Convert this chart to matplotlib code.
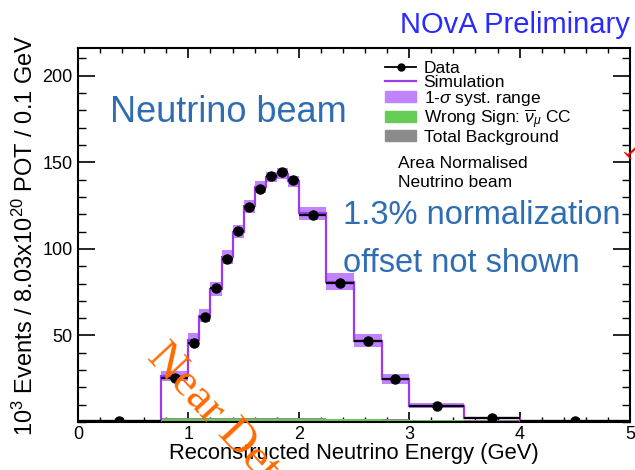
import numpy as np
import matplotlib.pyplot as plt
from matplotlib.lines import Line2D
from matplotlib.patches import Patch
from matplotlib.ticker import MultipleLocator

plt.rcParams['font.family'] = ['Liberation Sans', 'DejaVu Sans']
plt.rcParams['mathtext.fontset'] = 'custom'
plt.rcParams['mathtext.rm'] = 'Liberation Sans'
plt.rcParams['mathtext.it'] = 'Liberation Sans:italic'

# bin edges (GeV)
edges = np.array([0, 0.75, 1.0, 1.1, 1.2, 1.3, 1.4, 1.5, 1.6, 1.7, 1.8, 1.9,
                  2.0, 2.25, 2.5, 2.75, 3.0, 3.5, 4.0, 5.0])
data = np.array([0.5, 25.5, 45.6, 60.4, 77.3, 94.2, 110.4, 124.2, 134.6, 142.3,
                 144.2, 139.8, 119.6, 80.2, 46.6, 24.6, 9.0, 2.2, 0.3])
sim = np.array([0.3, 26.5, 47.5, 61.5, 77.0, 95.5, 110.0, 124.5, 135.5, 141.5,
                143.5, 139.0, 120.5, 81.0, 47.0, 25.0, 9.5, 2.5, 0.4])
syst = np.array([0.3, 3.0, 3.8, 3.8, 4.0, 4.0, 4.0, 4.0, 3.5, 3.0,
                 3.0, 3.0, 3.8, 4.8, 3.9, 2.9, 1.2, 0.6, 0.2])
wrong_sign = np.array([0.6, 1.8, 2.0, 2.0, 2.0, 2.0, 2.0, 2.0, 2.0, 2.0,
                       2.0, 2.0, 1.9, 1.8, 1.6, 1.4, 1.1, 0.8, 0.1])
tot_bkg = np.array([0.9, 2.1, 2.3, 2.3, 2.3, 2.3, 2.3, 2.3, 2.3, 2.3,
                    2.3, 2.3, 2.2, 2.0, 1.8, 1.6, 1.3, 1.0, 0.3])

purple = '#9d3be8'
band_col = '#c084ff'
green = '#66cc55'
grey = '#8c8c8c'
blue_txt = '#2f6db3'

fig = plt.figure(figsize=(6.35, 4.70), dpi=100)
ax = fig.add_axes([0.1228, 0.1021, 0.8694, 0.7957])

centers = 0.5 * (edges[:-1] + edges[1:])
halfw = 0.5 * np.diff(edges)

# systematic band
ax.fill_between(edges, np.append(sim - syst, sim[-1] - syst[-1]),
                np.append(sim + syst, sim[-1] + syst[-1]), step='post',
                color=band_col, lw=0, zorder=1)
# backgrounds
ax.fill_between(edges, 0, np.append(tot_bkg, tot_bkg[-1]), step='post',
                color=grey, lw=0, zorder=2)
ax.fill_between(edges, 0, np.append(wrong_sign, wrong_sign[-1]), step='post',
                color=green, lw=0, zorder=2)
# simulation
ax.stairs(sim, edges, color=purple, lw=1.6, zorder=3)
# data
ax.errorbar(centers, data, xerr=halfw, yerr=np.sqrt(data) * 0.05, fmt='o',
            color='black', ms=6.5, lw=1.6, capsize=0, zorder=4)

ax.set_xlim(0, 5)
ax.set_ylim(0, 216)
ax.xaxis.set_major_locator(MultipleLocator(1))
ax.xaxis.set_minor_locator(MultipleLocator(0.2))
ax.yaxis.set_major_locator(MultipleLocator(50))
ax.yaxis.set_minor_locator(MultipleLocator(10))
ax.set_yticks([50, 100, 150, 200])
ax.tick_params(axis='y', which='major', direction='in', length=12, width=1.2,
               right=True, labelsize=13, pad=4)
ax.tick_params(axis='y', which='minor', direction='in', length=6, width=1.0,
               right=True)
ax.tick_params(axis='x', which='major', direction='in', length=7.5, width=1.2,
               top=True, labelsize=13, pad=3)
ax.tick_params(axis='x', which='minor', direction='in', length=3.8, width=1.0,
               top=True)
for s in ax.spines.values():
    s.set_linewidth(1.5)

ax.set_xlabel('Reconstructed Neutrino Energy (GeV)', fontsize=15.8,
              labelpad=0)
ax.set_ylabel('10$^3$ Events / 8.03x10$^{20}$ POT / 0.1 GeV', fontsize=17,
              labelpad=3)

handles = [
    Line2D([], [], color='black', marker='o', ms=5, lw=1.3),
    Line2D([], [], color=purple, lw=1.6),
    Patch(color=band_col),
    Patch(color=green),
    Patch(color=grey),
]
labels = ['Data', 'Simulation', '1-$\\sigma$ syst. range',
          'Wrong Sign: $\\overline{\\nu}_{\\mu}$ CC', 'Total Background']
ax.legend(handles, labels, loc='upper left', bbox_to_anchor=(0.535, 0.998),
          frameon=False, fontsize=12.5, handlelength=1.75, handleheight=0.6,
          labelspacing=-0.06, handletextpad=0.45, borderpad=0.2)

fig.text(398 / 635, 1 - 168 / 470, 'Area Normalised', fontsize=12.5,
         va='baseline')
fig.text(398 / 635, 1 - 187 / 470, 'Neutrino beam', fontsize=12.5,
         va='baseline')

fig.text(630 / 635, 1 - 33 / 470, 'NOvA Preliminary', color='#2a2aff',
         fontsize=21, ha='right', va='baseline')
fig.text(110 / 635, 1 - 122 / 470, 'Neutrino beam', color=blue_txt,
         fontsize=26, va='baseline')
fig.text(343 / 635, 1 - 224 / 470, '1.3% normalization', color=blue_txt,
         fontsize=23.5, va='baseline')
fig.text(343 / 635, 1 - 272 / 470, 'offset not shown', color=blue_txt,
         fontsize=23.5, va='baseline')

fig.text(146 / 635, 1 - 358 / 470, 'Near Det', color='#ff6a00',
         fontsize=34, family='Liberation Serif', rotation=-47,
         rotation_mode='anchor', ha='left', va='baseline')
fig.text(622 / 635, 1 - 152 / 470, 'N', color='red',
         fontsize=32, family='Liberation Serif', rotation=-47,
         rotation_mode='anchor', ha='left', va='baseline')

fig.savefig('out.png', dpi=100)
